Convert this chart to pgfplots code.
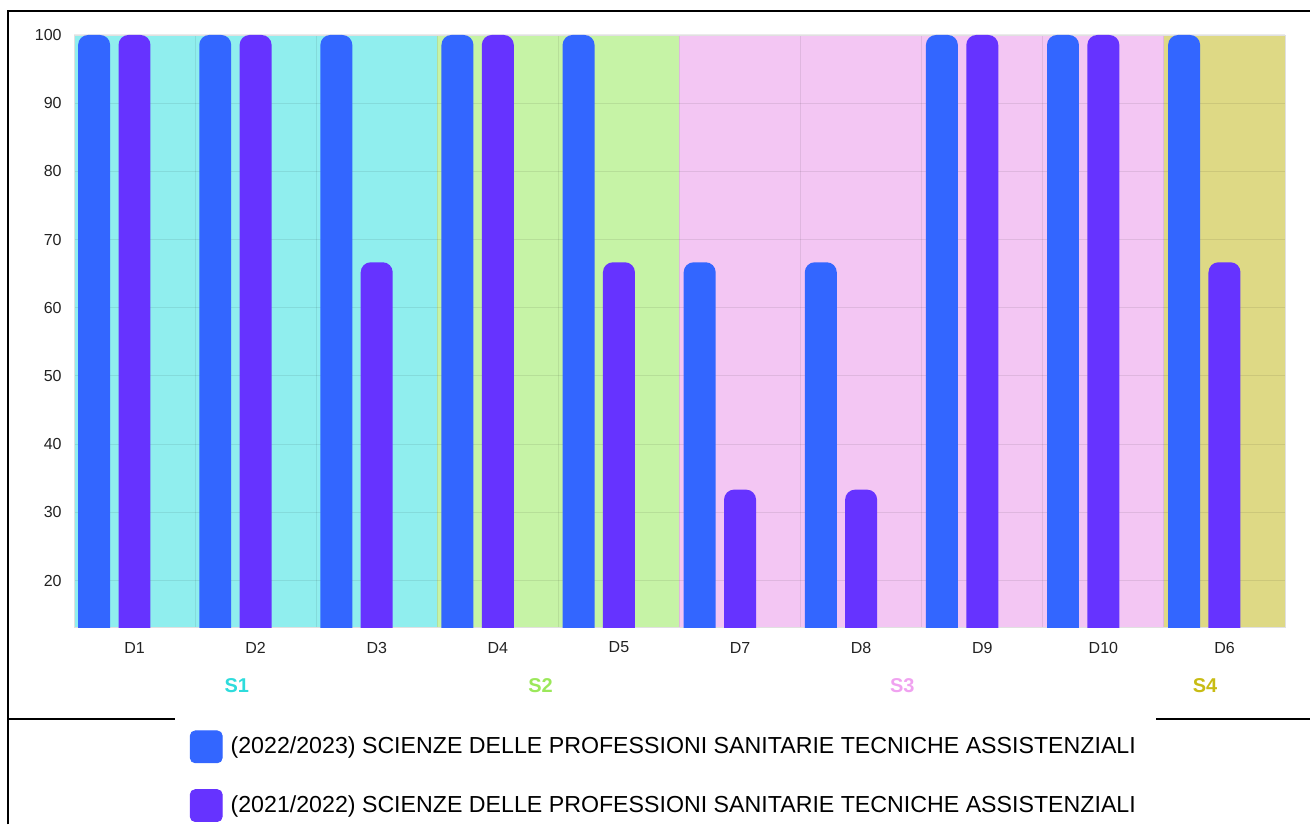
\documentclass[border=0pt]{standalone}
\usepackage{pgfplots}
\pgfplotsset{compat=1.18}
\usepackage{pgfplotstable}
\usepackage{fontspec}
\setmainfont{Liberation Sans}

\definecolor{barblue}{HTML}{3366FF}
\definecolor{barpurple}{HTML}{6633FF}
\definecolor{bgS1}{HTML}{90EEEE}
\definecolor{bgS2}{HTML}{C6F3A6}
\definecolor{bgS3}{HTML}{F3C6F3}
\definecolor{bgS4}{HTML}{DED985}
\definecolor{lbS1}{HTML}{2EDCDC}
\definecolor{lbS2}{HTML}{9BE85A}
\definecolor{lbS3}{HTML}{F0A2F0}
\definecolor{lbS4}{HTML}{C8BC14}
\definecolor{ticktext}{HTML}{222222}

% bar as a mark: rounded top, square body reaching below the axis (clipped)
\pgfdeclareplotmark{roundbar}{%
  \pgfpathmoveto{\pgfqpoint{-8pt}{-330pt}}%
  \pgfpathlineto{\pgfqpoint{-8pt}{-5pt}}%
  \pgfpatharc{180}{90}{5pt}%
  \pgfpathlineto{\pgfqpoint{3pt}{0pt}}%
  \pgfpatharc{90}{0}{5pt}%
  \pgfpathlineto{\pgfqpoint{8pt}{-330pt}}%
  \pgfpathclose
  \pgfusepathqfill
}

% x = category index, a = 2022/2023, b = 2021/2022
\pgfplotstableread{
x a b
0 100 100
1 100 100
2 100 66.67
3 100 100
4 100 66.67
5 66.67 33.33
6 66.67 33.33
7 100 100
8 100 100
9 100 66.67
}\datatable

\begin{document}
\begin{tikzpicture}
  \path (0,0) rectangle (655.5pt,412.5pt);
  % outer frame pieces
  \draw[line width=1pt] (4pt,0) -- (4pt,407pt) -- (655.5pt,407pt);
  \draw[line width=1pt] (4pt,52.5pt) -- (87.5pt,52.5pt);
  \draw[line width=1pt] (578.5pt,52.5pt) -- (655.5pt,52.5pt);

  \begin{axis}[
    set layers,
    at={(37pt,98.5pt)}, anchor=south west,
    scale only axis,
    width=606pt, height=296.5pt,
    xmin=-0.5, xmax=9.5,
    ymin=13.11, ymax=100,
    xtick={0,...,9},
    xticklabels={D1,D2,D3,D4,D5,D7,D8,D9,D10,D6},
    minor xtick={0.5,1.5,...,8.5},
    extra x ticks={0.845,3.353,6.34,8.84},
    extra x tick labels={\textcolor{lbS1}{S1},\textcolor{lbS2}{S2},\textcolor{lbS3}{S3},\textcolor{lbS4}{S4}},
    extra x tick style={grid=none, major tick length=0pt,
      xticklabel style={yshift=-19pt, font=\bfseries\fontsize{10}{12}\selectfont}},
    ytick={20,30,...,100},
    major tick length=0pt, minor tick length=0pt,
    ymajorgrids=true, xminorgrids=true,
    grid style={black, opacity=0.08, line width=0.5pt},
    minor grid style={black, opacity=0.08, line width=0.5pt},
    axis line style={black!12},
    ticklabel style={font=\fontsize{8}{9}\selectfont, text=ticktext},
    yticklabel style={anchor=east, inner sep=0pt, xshift=-6pt},
    xticklabel style={anchor=center, inner sep=0pt, yshift=-10pt},
    /pgf/number format/assume math mode=true,
    clip marker paths=true,
    legend style={at={(0.0957,-0.1737)}, anchor=north west, draw=none, fill=none,
      inner sep=0pt, outer sep=0pt, row sep=13pt,
      font=\fontsize{11.6}{13}\selectfont,
      nodes={inner sep=0pt},
      /tikz/every odd column/.append style={column sep=4pt}},
    legend cell align=left,
  ]
    \begin{pgfonlayer}{axis background}
      \fill[bgS1] (axis cs:-0.5,13.11) rectangle (axis cs:2.5,100);
      \fill[bgS2] (axis cs:2.5,13.11) rectangle (axis cs:4.5,100);
      \fill[bgS3] (axis cs:4.5,13.11) rectangle (axis cs:8.5,100);
      \fill[bgS4] (axis cs:8.5,13.11) rectangle (axis cs:9.5,100);
    \end{pgfonlayer}

    \addplot[only marks, mark=roundbar, mark options={fill=barblue, draw=none, xshift=-20.2pt},
      legend image code/.code={\fill[barblue, rounded corners=2.5pt] (0pt,-8pt) rectangle (16pt,8pt);}]
      table[x=x, y=a] {\datatable};
    \addlegendentry{(2022/2023) SCIENZE DELLE PROFESSIONI SANITARIE TECNICHE ASSISTENZIALI}
    \addplot[only marks, mark=roundbar, mark options={fill=barpurple, draw=none},
      legend image code/.code={\fill[barpurple, rounded corners=2.5pt] (0pt,-8pt) rectangle (16pt,8pt);}]
      table[x=x, y=b] {\datatable};
    \addlegendentry{(2021/2022) SCIENZE DELLE PROFESSIONI SANITARIE TECNICHE ASSISTENZIALI}
  \end{axis}
\end{tikzpicture}
\end{document}
